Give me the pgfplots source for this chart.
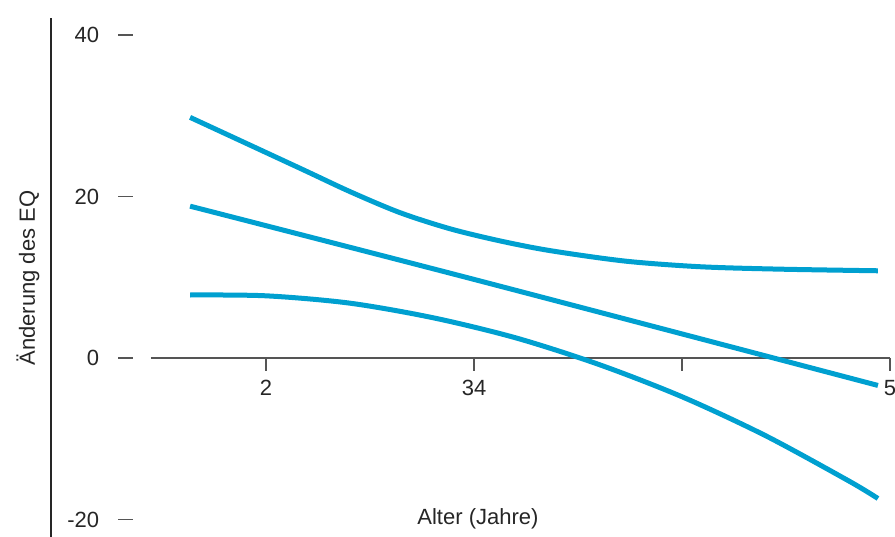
\documentclass[border=0pt]{standalone}
\usepackage{pgfplots}
\pgfplotsset{compat=1.18}
\usepackage{fontspec}
\setmainfont{Liberation Sans}
\definecolor{eqblue}{RGB}{0,160,208}
\definecolor{tickgray}{RGB}{85,85,85}
\begin{document}
\begin{tikzpicture}
\begin{axis}[
  scale only axis, width=447.5pt, height=268.5pt,
  xmin=-0.2788, xmax=4.0240, ymin=-22.167, ymax=44.334,
  axis lines=none, clip=false,
]
\coordinate (bl) at (rel axis cs:0,0);
\coordinate (tr) at (rel axis cs:1,1);
% y axis line
\draw[line width=0.8pt, black!85] (axis cs:-0.034,-22.167) -- (axis cs:-0.034,42.1);
% y ticks and labels
\draw[line width=0.7pt, tickgray] (axis cs:0.2885,40) -- (axis cs:0.3606,40);
\draw[line width=0.7pt, tickgray] (axis cs:0.2885,20) -- (axis cs:0.3606,20);
\draw[line width=0.7pt, tickgray] (axis cs:0.2885,0) -- (axis cs:0.3606,0);
\draw[line width=0.7pt, tickgray] (axis cs:0.2885,-20) -- (axis cs:0.3606,-20);
\node[anchor=east, inner sep=0pt, font=\fontsize{11}{13}\selectfont, text=black!85] at (axis cs:0.20,40) {40};
\node[anchor=east, inner sep=0pt, font=\fontsize{11}{13}\selectfont, text=black!85] at (axis cs:0.20,20) {20};
\node[anchor=east, inner sep=0pt, font=\fontsize{11}{13}\selectfont, text=black!85] at (axis cs:0.20,0) {0};
\node[anchor=east, inner sep=0pt, font=\fontsize{11}{13}\selectfont, text=black!85] at (axis cs:0.20,-20) {-20};
% x axis line
\draw[line width=0.7pt, tickgray] (axis cs:0.447,0) -- (axis cs:4.0,0);
\draw[line width=0.7pt, tickgray] (axis cs:1,0) -- (axis cs:1,-1.55);
\draw[line width=0.7pt, tickgray] (axis cs:2,0) -- (axis cs:2,-1.55);
\draw[line width=0.7pt, tickgray] (axis cs:3,0) -- (axis cs:3,-1.55);
\draw[line width=0.7pt, tickgray] (axis cs:4,0) -- (axis cs:4,-1.55);
\node[anchor=north, inner sep=0pt, font=\fontsize{11}{13}\selectfont, text=black!85] at (axis cs:1,-2.7) {2};
\node[anchor=north, inner sep=0pt, font=\fontsize{11}{13}\selectfont, text=black!85] at (axis cs:2,-2.7) {34};
\node[anchor=north, inner sep=0pt, font=\fontsize{11}{13}\selectfont, text=black!85] at (axis cs:4,-2.7) {5};
% labels
\node[rotate=90, font=\fontsize{11}{13}\selectfont, text=black!85] at (axis cs:-0.144,9.9) {Änderung des EQ};
\node[font=\fontsize{11}{13}\selectfont, text=black!85] at (axis cs:2.019,-19.9) {Alter (Jahre)};
% curves
\addplot[eqblue, line width=2.5pt, smooth] coordinates {
 (0.635,29.8) (1.163,23.5) (1.404,20.6) (1.644,18.0) (1.885,16.0) (2.125,14.5)
 (2.365,13.3) (2.726,12.0) (3.087,11.3) (3.471,11.0) (3.942,10.8)};
\addplot[eqblue, line width=2.5pt, smooth] coordinates {
 (0.635,18.8) (2.005,9.7) (3.942,-3.4)};
\addplot[eqblue, line width=2.5pt, smooth] coordinates {
 (0.635,7.8) (1.0,7.7) (1.4,6.8) (1.8,5.0) (2.2,2.5) (2.6,-0.8)
 (3.0,-4.8) (3.4,-9.6) (3.8,-15.2) (3.942,-17.4)};
\end{axis}
\pgfresetboundingbox
\path[use as bounding box] (bl) rectangle (tr);
\end{tikzpicture}
\end{document}
